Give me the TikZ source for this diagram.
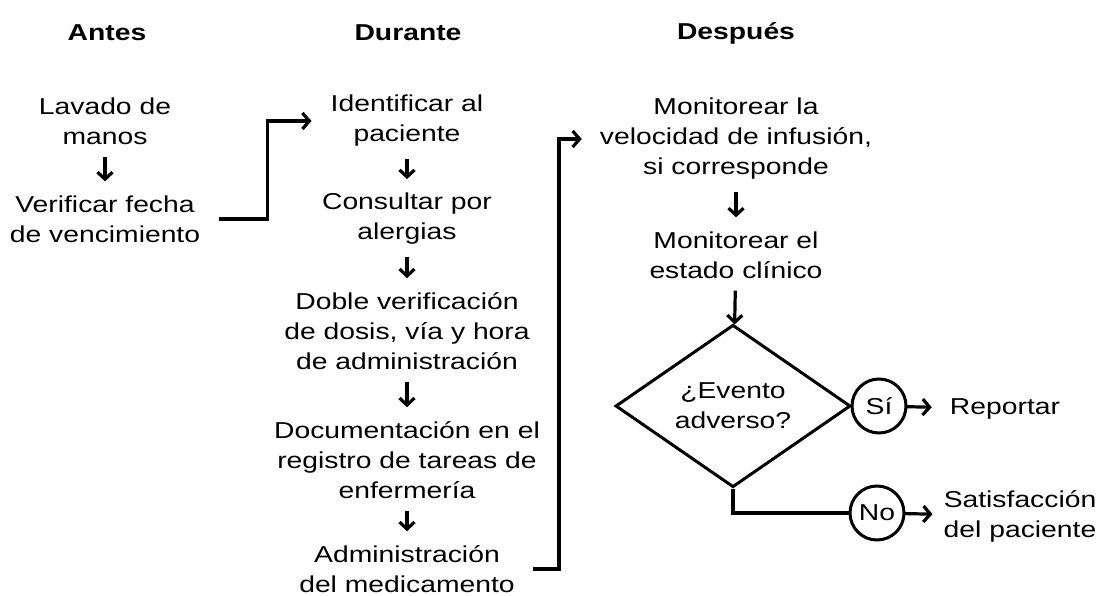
\documentclass[tikz,border=0pt]{standalone}
\usepackage{fontspec}
\setmainfont{Liberation Sans}[FakeStretch=1.23]
\usetikzlibrary{shapes.geometric,arrows.meta}

\begin{document}
\begin{tikzpicture}[x=1pt, y=-1pt,
    texto/.style={align=center, inner sep=4pt, font=\fontsize{23}{30}\selectfont},
    titulo/.style={inner sep=4pt, font=\fontsize{23}{30}\selectfont\bfseries},
    flecha/.style={line width=3.2pt, -{Straight Barb[length=7pt,width=15pt]}, shorten <=8pt, shorten >=10pt},
    conector/.style={line width=3.2pt, -{Straight Barb[length=7pt,width=16pt]}},
    circulo/.style={draw, circle, line width=3pt, minimum size=54pt, inner sep=0pt, outer sep=0pt, font=\fontsize{23}{30}\selectfont}]
    \useasboundingbox (0,0) rectangle (1099,596);

    % Titles
    \node[titulo] (antes) at (107,33) {Antes};
    \node[titulo] (durante) at (408,33) {Durante};
    \node[titulo] (despues) at (736,33) {Después};

    % Antes
    \node[texto] (lavado) at (105,121) {Lavado de\\manos};
    \node[texto] (verificar) at (105,219) {Verificar fecha\\de vencimiento};
    \draw[flecha] (lavado) -- (verificar);

    % Durante
    \node[texto] (identificar) at (407,121) {Identificar al\\paciente};
    \node[texto] (consultar) at (407,219) {Consultar por\\alergias};
    \node[texto] (doble) at (407,331) {Doble verificación\\de dosis, vía y hora\\de administración};
    \node[texto] (documentar) at (407,460) {Documentación en el\\registro de tareas de\\enfermería};
    \node[texto] (administrar) at (407,569) {Administración\\del medicamento};
    \draw[flecha] (identificar) -- (consultar);
    \draw[flecha] (consultar) -- (doble);
    \draw[flecha] (doble) -- (documentar);
    \draw[flecha] (documentar) -- (administrar);

    % Después
    \node[texto] (velocidad) at (736,139) {Monitorear la\\velocidad de infusión,\\si corresponde};
    \node[texto] (estado) at (736,255) {Monitorear el\\estado clínico};
    \node[texto, draw, diamond, line width=3pt, minimum width=235pt, minimum height=147pt, inner sep=0pt] (evento) at (733,406) {¿Evento\\adverso?};
    \node[circulo, anchor=west] (si) at (evento.east) {Sí};
    \node[circulo] (no) at (877,513) {No};
    \node[texto] (reportar) at (1005,409) {Reportar};
    \node[texto] (satisf) at (1020,516) {Satisfacción\\del paciente};
    \draw[flecha] (velocidad) -- (estado);
    \draw[flecha, shorten >=0pt] (estado) -- (evento);

    % Antes -> Durante -> Después
    \draw[conector, shorten <=15pt, shorten >=15pt] (verificar.east) -- ++(63,0) |- (identificar.west);
    \draw[conector, shorten <=14pt, shorten >=14pt] (administrar.east) -- ++(40,0) |- (velocidad.west);

    % Sí / No
    \draw[conector, shorten >=14pt] (si) -- (reportar);
    \draw[line width=3.2pt] (evento.south) |- (no);
    \draw[conector, shorten >=7pt] (no) -- (satisf);
\end{tikzpicture}
\end{document}
